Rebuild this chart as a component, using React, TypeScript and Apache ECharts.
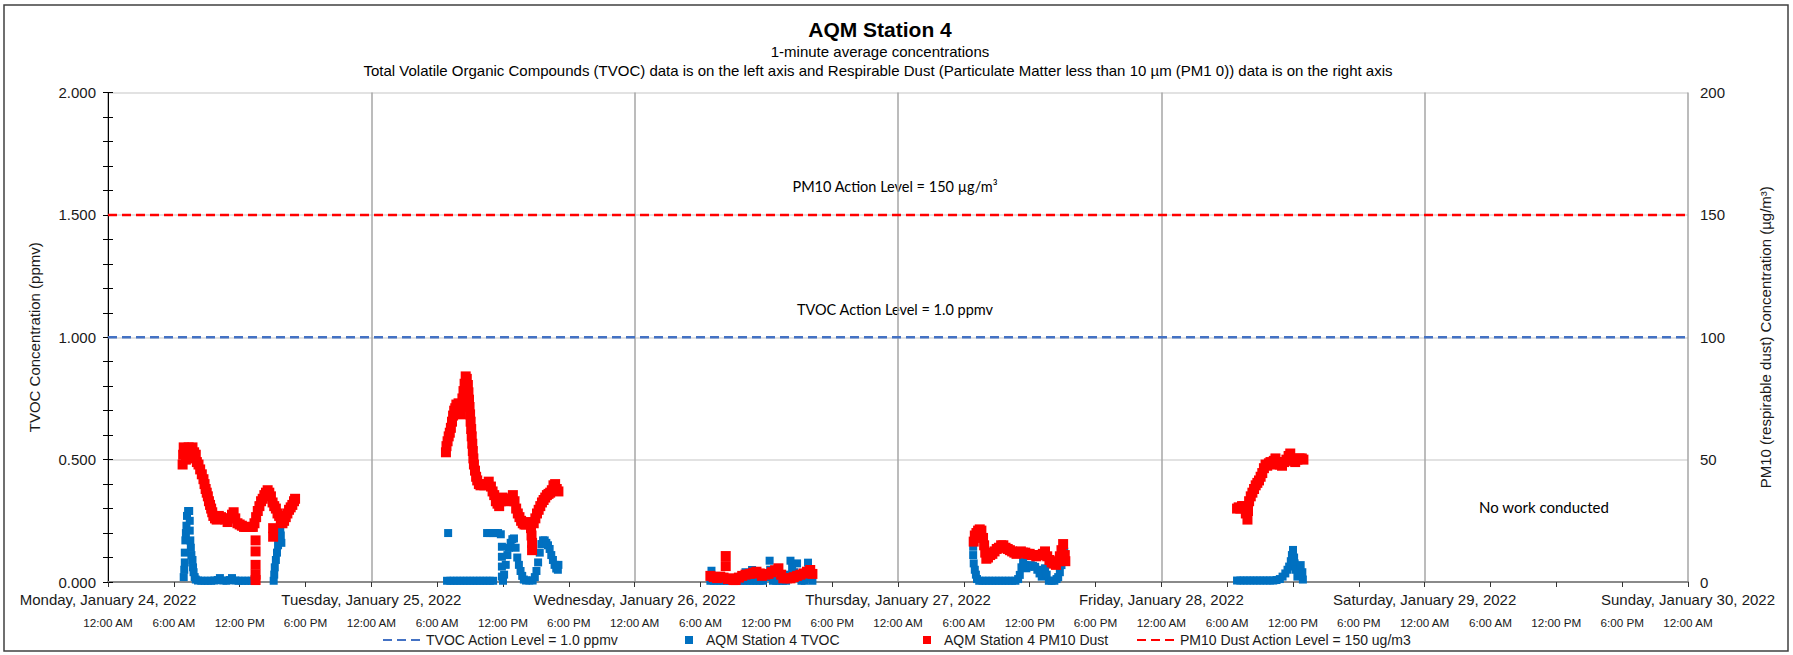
import React, { useEffect, useRef } from 'react';
import * as echarts from 'echarts';

// ---------- axis labels ----------
const dayLabels = [
  'Monday, January 24, 2022',
  'Tuesday, January 25, 2022',
  'Wednesday, January 26, 2022',
  'Thursday, January 27, 2022',
  'Friday, January 28, 2022',
  'Saturday, January 29, 2022',
  'Sunday, January 30, 2022',
];
const timeLabels = ['12:00 AM', '6:00 AM', '12:00 PM', '6:00 PM'];

// hours since Monday Jan 24 2022 00:00
const X_MIN = 0;
const X_MAX = 144;

const tvocActionLevel = 1.0;
const pm10ActionLevel = 150;

// ---------- TVOC (ppmv), [hour, value] ----------
const tvocMon = [
  [6.9, 0.02], [6.95, 0.05], [7.0, 0.08], [7.0, 0.12], [7.05, 0.17], [7.1, 0.2], [7.15, 0.23], [7.2, 0.27],
  [7.3, 0.29], [7.4, 0.29], [7.45, 0.25], [7.45, 0.21], [7.5, 0.17], [7.55, 0.14], [7.6, 0.11], [7.7, 0.09],
  [7.75, 0.06], [7.8, 0.04], [7.9, 0.02], [8.0, 0.01], [8.2, 0.006], [8.5, 0.005], [8.8, 0.005], [9.1, 0.005],
  [9.4, 0.005], [9.7, 0.006], [10.0, 0.008], [10.2, 0.016], [10.5, 0.006], [10.8, 0.005], [11.1, 0.008],
  [11.3, 0.016], [11.6, 0.006], [11.9, 0.005], [12.2, 0.005], [12.5, 0.005], [12.8, 0.005], [13.1, 0.005],
  [13.35, 0.005], [15.1, 0.005], [15.15, 0.03], [15.2, 0.06], [15.3, 0.09], [15.4, 0.12], [15.5, 0.15],
  [15.55, 0.18], [15.6, 0.21], [15.7, 0.22], [15.75, 0.19], [15.8, 0.16],
];
const tvocTue = [
  [31.0, 0.2], [30.9, 0.005], [31.2, 0.005], [31.5, 0.005], [31.8, 0.005], [32.1, 0.005], [32.4, 0.005],
  [32.7, 0.005], [33.0, 0.005], [33.3, 0.005], [33.6, 0.005], [33.9, 0.005], [34.2, 0.005], [34.5, 0.005],
  [34.8, 0.005], [35.1, 0.005], [34.55, 0.2], [34.8, 0.2], [35.05, 0.2], [35.3, 0.2], [35.55, 0.2], [35.8, 0.195],
  [35.9, 0.144], [35.9, 0.103], [35.9, 0.063], [35.9, 0.022], [36.0, 0.005], [36.1, 0.03], [36.25, 0.07],
  [36.4, 0.11], [36.55, 0.14], [36.7, 0.16], [36.85, 0.175], [37.0, 0.178], [37.15, 0.14], [37.3, 0.1],
  [37.45, 0.07], [37.6, 0.045], [37.75, 0.025], [37.9, 0.01], [38.1, 0.006], [38.4, 0.006], [38.7, 0.006],
  [38.9, 0.02], [39.05, 0.045], [39.2, 0.08], [39.35, 0.12], [39.5, 0.155], [39.65, 0.17], [39.8, 0.17],
  [39.95, 0.16], [40.1, 0.15], [40.25, 0.135], [40.4, 0.11], [40.55, 0.09], [40.7, 0.07], [40.85, 0.055],
  [41.0, 0.05], [41.05, 0.07],
];
const tvocWed = [
  [54.9, 0.005], [55.0, 0.046], [55.2, 0.005], [55.5, 0.005], [55.8, 0.005], [56.1, 0.005], [56.4, 0.005],
  [56.7, 0.005], [57.0, 0.005], [57.3, 0.005], [57.6, 0.005], [57.9, 0.005], [58.1, 0.04], [58.2, 0.005],
  [58.5, 0.005], [58.7, 0.049], [58.8, 0.005], [59.1, 0.005], [59.4, 0.005], [59.7, 0.005], [60.0, 0.02],
  [60.3, 0.087], [60.35, 0.05], [60.6, 0.005], [60.9, 0.005], [61.2, 0.005], [61.5, 0.005], [61.8, 0.005],
  [62.0, 0.03], [62.2, 0.087], [62.35, 0.06], [62.55, 0.04], [62.8, 0.076], [63.0, 0.02], [63.2, 0.005],
  [63.5, 0.005], [63.8, 0.079], [63.9, 0.05], [64.1, 0.02], [64.2, 0.005],
];
const tvocThu = [
  [78.85, 0.144], [78.85, 0.11], [78.9, 0.076], [79.0, 0.05], [79.1, 0.03], [79.2, 0.012], [79.4, 0.005],
  [79.7, 0.005], [80.0, 0.005], [80.3, 0.005], [80.6, 0.005], [80.9, 0.005], [81.2, 0.005], [81.5, 0.005],
  [81.8, 0.005], [82.1, 0.005], [82.4, 0.005], [82.7, 0.005], [82.95, 0.012], [83.1, 0.029], [83.25, 0.06],
  [83.4, 0.083], [83.55, 0.07], [83.7, 0.056], [83.9, 0.062], [84.1, 0.069], [84.3, 0.066], [84.5, 0.062],
  [84.7, 0.05], [84.9, 0.035], [85.1, 0.022], [85.25, 0.045], [85.4, 0.056], [85.55, 0.03], [85.75, 0.005],
  [86.0, 0.005], [86.25, 0.005], [86.45, 0.012], [86.6, 0.02], [86.75, 0.04], [86.9, 0.069], [87.05, 0.1],
  [87.15, 0.124],
];
const tvocFri = [
  [102.9, 0.006], [103.2, 0.006], [103.5, 0.006], [103.8, 0.006], [104.1, 0.006], [104.4, 0.006],
  [104.7, 0.006], [105.0, 0.006], [105.3, 0.006], [105.6, 0.006], [105.9, 0.006], [106.2, 0.006],
  [106.5, 0.008], [106.8, 0.012], [107.05, 0.022], [107.3, 0.035], [107.5, 0.05], [107.65, 0.063],
  [107.8, 0.085], [107.9, 0.11], [108.0, 0.131], [108.1, 0.1], [108.15, 0.076], [108.25, 0.05],
  [108.4, 0.022], [108.55, 0.04], [108.7, 0.069], [108.85, 0.04], [108.9, 0.01],
];

// ---------- PM10 (µg/m³), [hour, value] ----------
const pm10Mon = [
  [6.8, 48], [6.85, 52], [6.9, 55], [7.0, 53], [7.1, 50], [7.2, 54], [7.35, 55], [7.5, 54], [7.6, 50.5],
  [7.7, 55], [7.85, 53], [8.0, 52], [8.1, 49], [8.25, 48], [8.4, 46], [8.55, 44], [8.7, 42], [8.8, 40],
  [8.9, 38], [9.0, 36.5], [9.1, 35], [9.2, 33], [9.3, 31.5], [9.4, 30], [9.5, 28.5], [9.6, 27], [9.75, 26],
  [9.9, 25.5], [10.1, 27], [10.3, 26.5], [10.5, 26], [10.7, 25.5], [10.9, 24.5], [11.1, 26], [11.3, 27.5],
  [11.45, 28.5], [11.6, 26], [11.8, 24], [12.0, 23.5], [12.2, 23], [12.4, 22.5], [12.6, 22.5], [12.8, 22.5],
  [13.0, 22.5], [13.2, 22.5], [13.35, 24], [13.45, 17], [13.45, 12.5], [13.45, 7], [13.45, 3], [13.45, 0.8],
  [13.5, 26.5], [13.65, 29], [13.8, 31], [13.95, 33], [14.1, 34], [14.25, 35.5], [14.4, 36.5], [14.55, 37.5],
  [14.7, 36.5], [14.85, 35], [15.0, 32.5], [15.05, 22], [15.05, 18.5], [15.15, 31], [15.3, 30], [15.45, 28],
  [15.6, 27], [15.75, 25.5], [15.9, 24], [16.05, 25], [16.2, 26.5], [16.35, 28], [16.5, 29.5], [16.65, 30.5],
  [16.8, 31.5], [16.95, 33], [17.05, 34],
];
const pm10Tue = [
  [30.8, 53], [30.85, 55.5], [30.95, 57.5], [31.05, 59.5], [31.15, 61], [31.25, 63], [31.35, 65.5], [31.45, 68],
  [31.55, 70], [31.65, 71], [31.75, 72.5], [31.85, 71], [31.95, 73], [32.05, 70], [32.15, 68.5], [32.25, 72],
  [32.3, 75], [32.4, 78], [32.5, 81], [32.6, 84], [32.7, 83], [32.8, 80.5], [32.85, 77.5], [32.9, 74.5],
  [32.95, 71.5], [33.0, 68.5], [33.05, 65.5], [33.1, 62.5], [33.15, 59.5], [33.2, 56.5], [33.25, 53.5],
  [33.3, 50.5], [33.35, 48], [33.45, 45.5], [33.55, 43], [33.65, 41.5], [33.8, 40], [33.95, 39.5], [34.1, 40],
  [34.3, 39.5], [34.5, 40], [34.7, 41], [34.9, 39], [35.05, 37], [35.2, 35.5], [35.35, 33], [35.5, 32],
  [35.65, 31], [35.8, 33], [35.95, 34.5], [36.1, 34], [36.3, 33], [36.5, 34], [36.7, 34], [36.9, 35.5],
  [37.05, 33], [37.2, 30], [37.35, 28], [37.5, 26.5], [37.65, 25], [37.8, 24], [37.95, 23.5], [38.1, 23.5],
  [38.25, 24], [38.4, 24.5], [38.55, 22], [38.6, 19], [38.65, 16], [38.65, 13], [38.8, 24], [38.95, 26],
  [39.1, 28], [39.25, 29.5], [39.4, 31], [39.55, 32.5], [39.7, 33.5], [39.85, 34.5], [40.0, 35.5], [40.15, 36],
  [40.3, 36.5], [40.45, 37.5], [40.6, 39.5], [40.75, 40], [40.9, 38], [41.05, 37],
];
const pm10Wed = [
  [54.9, 2.5], [55.2, 2], [55.5, 1.6], [55.8, 2.2], [56.1, 1.8], [56.3, 6.5], [56.3, 10.6], [56.5, 1.2],
  [56.7, 1.5], [57.0, 0.8], [57.2, 0.8], [57.5, 1.8], [57.8, 2.5], [58.1, 3], [58.5, 3.3], [58.8, 3.8],
  [59.1, 4.2], [59.4, 3.5], [59.6, 2.5], [59.9, 3], [60.2, 3.3], [60.5, 4], [60.8, 4.8], [61.1, 5.6],
  [61.35, 3], [61.55, 1.5], [61.9, 1.5], [62.2, 1.5], [62.5, 2], [62.8, 2.5], [63.1, 3], [63.4, 3.5],
  [63.7, 4.2], [64.0, 4.9], [64.2, 3.3],
];
const pm10Thu = [
  [78.9, 16.5], [79.0, 19], [79.15, 20], [79.3, 21], [79.45, 21.5], [79.6, 21], [79.75, 18], [79.85, 15],
  [79.95, 12], [80.05, 9.5], [80.2, 10], [80.4, 11], [80.6, 11.5], [80.8, 12.5], [81.0, 13.5], [81.2, 14],
  [81.4, 15], [81.6, 15], [81.8, 14], [82.0, 13.5], [82.2, 13], [82.4, 12.5], [82.6, 12], [82.8, 11.5],
  [83.0, 12], [83.2, 12.5], [83.4, 12], [83.6, 12], [83.8, 11.5], [84.0, 11.5], [84.2, 11], [84.4, 11],
  [84.6, 10.5], [84.8, 11], [85.0, 11], [85.2, 11.5], [85.4, 12.5], [85.6, 10.5], [85.8, 9], [86.0, 8],
  [86.2, 7.5], [86.4, 7], [86.6, 8.5], [86.75, 10.5], [86.9, 13], [87.05, 15.5], [87.2, 11], [87.25, 8.5],
];
const pm10Fri = [
  [102.9, 30], [103.05, 30.5], [103.2, 30], [103.35, 31], [103.5, 31], [103.7, 28], [103.85, 25.5],
  [103.9, 29], [104.0, 33], [104.15, 35], [104.3, 36.5], [104.45, 38], [104.6, 39.5], [104.75, 40.5],
  [104.9, 41.5], [105.05, 43], [105.2, 44.5], [105.35, 46.5], [105.5, 48], [105.65, 47.5], [105.8, 48.5],
  [105.95, 49], [106.1, 48], [106.25, 49.5], [106.4, 50.5], [106.6, 49], [106.8, 48], [107.0, 47.5],
  [107.2, 49], [107.4, 50], [107.6, 51.5], [107.75, 52.5], [107.9, 50.5], [108.05, 49.5], [108.2, 49],
  [108.4, 50], [108.6, 50.5], [108.8, 50.5], [108.95, 50],
];

const tvocData = [...tvocMon, ...tvocTue, ...tvocWed, ...tvocThu, ...tvocFri];
const pm10Data = [...pm10Mon, ...pm10Tue, ...pm10Wed, ...pm10Thu, ...pm10Fri];

const NAME_TVOC_ACTION = 'TVOC Action Level = 1.0 ppmv';
const NAME_TVOC = 'AQM Station 4 TVOC';
const NAME_PM10 = 'AQM Station 4 PM10 Dust';
const NAME_PM10_ACTION = 'PM10 Dust Action Level = 150 ug/m3';

const ARIAL = '"Liberation Sans", Arial, sans-serif';
const CALIBRI = 'Lato, Carlito, Calibri, sans-serif';
const TXT = '#1a1a1a';

export default function App() {
  const ref = useRef<HTMLDivElement>(null);

  useEffect(() => {
    if (!ref.current) return;
    const chart = echarts.init(ref.current, undefined, { renderer: 'svg' });

    const legendText = { fontFamily: ARIAL, fontSize: 14, color: TXT };
    const centered = { align: 'center', verticalAlign: 'middle', textAlign: 'center', textVerticalAlign: 'middle' };

    chart.setOption({
      animation: false,
      backgroundColor: '#ffffff',
      grid: { left: 108, right: 105, top: 92.5, bottom: 73, containLabel: false },
      legend: [
        {
          data: [NAME_TVOC_ACTION], left: 377, top: 628, itemWidth: 41, itemHeight: 14,
          selectedMode: false, itemStyle: { opacity: 0, borderWidth: 0 },
          textStyle: { ...legendText, padding: [0, 0, 0, -3] },
        },
        {
          data: [{ name: NAME_TVOC, icon: 'rect' }], left: 680, top: 628, itemWidth: 8, itemHeight: 8,
          selectedMode: false, textStyle: { ...legendText, padding: [0, 0, 0, 8] },
        },
        {
          data: [{ name: NAME_PM10, icon: 'rect' }], left: 918, top: 628, itemWidth: 8, itemHeight: 8,
          selectedMode: false, textStyle: { ...legendText, padding: [0, 0, 0, 8] },
        },
        {
          data: [NAME_PM10_ACTION], left: 1131, top: 628, itemWidth: 41, itemHeight: 14,
          selectedMode: false, itemStyle: { opacity: 0, borderWidth: 0 },
          textStyle: { ...legendText, padding: [0, 0, 0, -3] },
        },
      ],
      xAxis: [
        {
          type: 'value', min: X_MIN, max: X_MAX, interval: 24, position: 'bottom',
          axisLine: { show: true, onZero: false, lineStyle: { color: '#8a8a8a', width: 2 } },
          axisTick: { show: false },
          splitLine: { show: true, lineStyle: { color: '#a6a6a6', width: 1.5 } },
          axisLabel: {
            margin: 10, fontFamily: ARIAL, fontSize: 15, color: TXT, showMinLabel: true, showMaxLabel: true,
            formatter: (v: number) => dayLabels[Math.round(v / 24)] ?? '',
          },
        },
        {
          type: 'value', min: X_MIN, max: X_MAX, interval: 6, position: 'bottom',
          axisLine: { show: false, onZero: false },
          axisTick: { show: true, length: 5, lineStyle: { color: '#333', width: 1 } },
          splitLine: { show: false },
          axisLabel: {
            margin: 34, fontFamily: ARIAL, fontSize: 11.7, color: TXT, showMinLabel: true, showMaxLabel: true,
            formatter: (v: number) => timeLabels[Math.round(v / 6) % 4],
          },
        },
      ],
      yAxis: [
        {
          type: 'value', min: 0, max: 2, interval: 0.5, position: 'left',
          name: 'TVOC Concentration (ppmv)', nameLocation: 'middle', nameGap: 66,
          nameTextStyle: { fontFamily: ARIAL, fontSize: 15, color: TXT },
          axisLine: { show: true, lineStyle: { color: '#000', width: 1 } },
          axisTick: { show: true, length: 5, lineStyle: { color: '#000' } },
          minorTick: { show: true, splitNumber: 5, length: 5, lineStyle: { color: '#000' } },
          splitLine: { show: true, lineStyle: { color: '#d9d9d9', width: 1.5 } },
          axisLabel: {
            margin: 12, fontFamily: ARIAL, fontSize: 15, color: TXT,
            formatter: (v: number) => v.toFixed(3),
          },
        },
        {
          type: 'value', min: 0, max: 200, interval: 50, position: 'right',
          name: 'PM10 (respirable dust) Concentration (µg/m³)', nameLocation: 'middle', nameGap: 70,
          nameTextStyle: { fontFamily: ARIAL, fontSize: 15, color: TXT },
          axisLine: { show: true, lineStyle: { color: '#000', width: 1 } },
          axisTick: { show: true, length: 5, lineStyle: { color: '#000' } },
          minorTick: { show: true, splitNumber: 5, length: 5, lineStyle: { color: '#000' } },
          splitLine: { show: false },
          axisLabel: { margin: 12, fontFamily: ARIAL, fontSize: 15, color: TXT },
        },
      ],
      series: [
        {
          name: NAME_TVOC_ACTION, type: 'line', xAxisIndex: 0, yAxisIndex: 0, symbol: 'none',
          data: [[X_MIN, tvocActionLevel], [X_MAX, tvocActionLevel]],
          lineStyle: { color: '#4472C4', width: 2.5, type: [9, 5] }, itemStyle: { color: '#4472C4' }, z: 3,
        },
        {
          name: NAME_TVOC, type: 'scatter', xAxisIndex: 0, yAxisIndex: 0, symbol: 'rect', symbolSize: 8,
          data: tvocData, itemStyle: { color: '#0070C0', opacity: 1 }, z: 4,
        },
        {
          name: NAME_PM10, type: 'scatter', xAxisIndex: 0, yAxisIndex: 1, symbol: 'rect', symbolSize: 10,
          data: pm10Data, itemStyle: { color: '#FF0000', opacity: 1 }, z: 5,
        },
        {
          name: NAME_PM10_ACTION, type: 'line', xAxisIndex: 0, yAxisIndex: 1, symbol: 'none',
          data: [[X_MIN, pm10ActionLevel], [X_MAX, pm10ActionLevel]],
          lineStyle: { color: '#FF0000', width: 2.5, type: [9, 5] }, itemStyle: { color: '#FF0000' }, z: 3,
        },
      ],
      graphic: [
        {
          type: 'rect', silent: true, z: -10,
          shape: { x: 4, y: 5, width: 1784, height: 646 },
          style: { fill: 'none', stroke: '#404040', lineWidth: 1.5 },
        },
        {
          type: 'text', silent: true, x: 880, y: 29,
          style: { text: 'AQM Station 4', font: `bold 21px ${ARIAL}`, fill: '#000', ...centered },
        },
        {
          type: 'text', silent: true, x: 880, y: 51,
          style: { text: '1-minute average concentrations', font: `15px ${ARIAL}`, fill: '#000', ...centered },
        },
        {
          type: 'text', silent: true, x: 878, y: 70,
          style: {
            text: 'Total Volatile Organic Compounds (TVOC) data is on the left axis and Respirable Dust (Particulate Matter less than 10 µm (PM1 0)) data is on the right axis',
            font: `15px ${ARIAL}`, fill: '#000', ...centered,
          },
        },
        {
          type: 'text', silent: true, x: 895, y: 186,
          style: { text: 'PM10 Action Level = 150 µg/m³', font: `14.5px ${CALIBRI}`, fill: '#000', ...centered },
        },
        {
          type: 'text', silent: true, x: 895, y: 309,
          style: { text: 'TVOC Action Level = 1.0 ppmv', font: `14.5px ${CALIBRI}`, fill: '#000', ...centered },
        },
        {
          type: 'text', silent: true, x: 1544, y: 507,
          style: { text: 'No work conducted', font: `15px ${CALIBRI}`, fill: '#000', ...centered },
        },
      ],
    });

    return () => chart.dispose();
  }, []);

  return (
    <div
      ref={ref}
      style={{ position: 'fixed', left: 0, top: 0, width: 1793, height: 655, background: '#fff' }}
    />
  );
}
